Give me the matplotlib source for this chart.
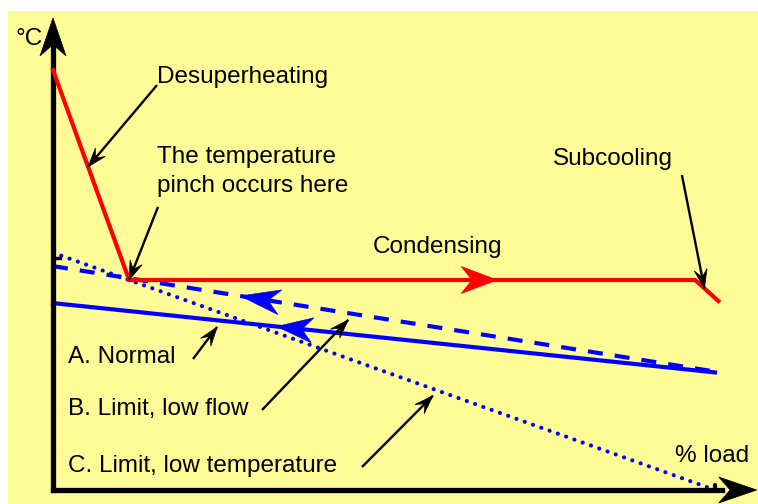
import numpy as np
import matplotlib
matplotlib.use("Agg")
import matplotlib.pyplot as plt
from matplotlib.patches import Polygon, Rectangle

plt.rcParams['font.family'] = ['Liberation Sans', 'DejaVu Sans']

# % load on x, temperature (arbitrary units) on y
hot_x = [0, 11.5, 97.0, 100.5]
hot_y = [100, 50, 50, 45]          # desuperheating -> condensing -> subcooling

normal_x = [0, 100]
normal_y = [44.5, 28.0]            # A. Normal
lowflow_x = [0, 100]
lowflow_y = [53.3, 28.2]           # B. Limit, low flow
lowtemp_x = [0, 100]
lowtemp_y = [56.5, 0.0]            # C. Limit, low temperature

yellow = '#fffc98'
blue = '#0000ff'
red = '#ff0000'

fig = plt.figure(figsize=(7.58, 5.04), dpi=100)
bg = Rectangle((8 / 758, 0), 1, 493 / 504, transform=fig.transFigure,
               facecolor=yellow, edgecolor='none', zorder=-10)
fig.add_artist(bg)
ax = fig.add_axes([0, 0, 1, 1], zorder=1)
ax.patch.set_alpha(0)
ax.set_xlim(-53 / 6.62, 705 / 6.62)
ax.set_ylim(-14 / 4.2, 490 / 4.2)
ax.axis('off')


def stealth(tip, towards, length, width, color, notch=0.7):
    """Filled barbed arrowhead at tip, pointing along 'towards' (both in data)."""
    s = fig.dpi / 100
    t = ax.transData.transform(tip)
    b = ax.transData.transform(towards)
    d = t - b
    d = d / np.hypot(*d)
    n = np.array([-d[1], d[0]])
    L, W = length * s, width * s
    pts = [t, t - L * d + W / 2 * n, t - notch * L * d, t - L * d - W / 2 * n]
    pts = ax.transData.inverted().transform(pts)
    ax.add_patch(Polygon(pts, closed=True, facecolor=color, edgecolor=color,
                         lw=0.5, zorder=6))


def on_line(xs, ys, x):
    return (x, float(np.interp(x, xs, ys)))


def pointer(tail, tip):
    ax.plot([tail[0], tip[0]], [tail[1], tip[1]], color='k', lw=1.7,
            solid_capstyle='butt', zorder=5)
    stealth(tip, tail, 19, 13, 'k', notch=0.6)


# axes with arrows
ax.plot([0, 0], [0, 107], color='k', lw=3.8, solid_capstyle='projecting', zorder=4)
ax.plot([0, 101], [0, 0], color='k', lw=3.8, solid_capstyle='projecting', zorder=4)
stealth((0, 112.4), (0, 0), 38, 26, 'k')
stealth((106.3, 0), (0, 0), 38, 26, 'k')
ax.plot([0, 1.0], [55.2, 55.2], color='k', lw=2.5, zorder=4)
ax.plot([100, 100], [0, 1.2], color='k', lw=3, solid_capstyle='round', zorder=4)

# cooling water lines
ax.plot(normal_x, normal_y, color=blue, lw=3, zorder=3)
ax.plot(lowflow_x, lowflow_y, color=blue, lw=3, dashes=(3.6, 2.9), zorder=3)
ax.plot(lowtemp_x, lowtemp_y, color=blue, lw=3, dashes=(0.01, 2.1),
        dash_capstyle='round', zorder=3)

# refrigerant line
ax.plot(hot_x, hot_y, color=red, lw=3, solid_joinstyle='miter', zorder=4)

# flow direction arrows
tip = on_line(hot_x, hot_y, 67.1)
stealth(tip, (0, tip[1]), 36, 27, red)
tip = on_line(lowflow_x, lowflow_y, 28.3)
stealth(tip, on_line(lowflow_x, lowflow_y, 60), 40, 25, blue)
tip = on_line(normal_x, normal_y, 33.8)
stealth(tip, on_line(normal_x, normal_y, 60), 36, 25, blue)

fs = 17.5
ax.text(-5.74, 105.95, '°C', fontsize=fs, va='baseline')
ax.text(93.96, 6.67, '% load', fontsize=fs, va='baseline')
ax.text(15.71, 96.9, 'Desuperheating', fontsize=fs, va='baseline')
ax.text(15.71, 77.86, 'The temperature', fontsize=fs, va='baseline')
ax.text(15.71, 70.95, 'pinch occurs here', fontsize=fs, va='baseline')
ax.text(48.34, 56.43, 'Condensing', fontsize=fs, va='baseline')
ax.text(75.53, 77.38, 'Subcooling', fontsize=fs, va='baseline')
ax.text(2.27, 30.24, 'A. Normal', fontsize=fs, va='baseline')
ax.text(2.27, 17.86, 'B. Limit, low flow', fontsize=fs, va='baseline')
ax.text(2.27, 4.29, 'C. Limit, low temperature', fontsize=fs, va='baseline')

# callouts
pointer((15.71, 96.4), on_line(hot_x, hot_y, 5.3))
pointer((15.86, 67.4), (hot_x[1], hot_y[1]))
pointer((95.0, 75.0), on_line(hot_x, hot_y, 98.4))
x, y = on_line(normal_x, normal_y, 24.8)
pointer((21.15, 31.2), (x, y - 1.6))
x, y = on_line(lowflow_x, lowflow_y, 44.6)
pointer((31.57, 19.05), (x, y - 1.6))
x, y = on_line(lowtemp_x, lowtemp_y, 57.4)
pointer((46.68, 5.48), (x, y - 1.6))

fig.savefig('out.png', dpi=100, facecolor='white')
